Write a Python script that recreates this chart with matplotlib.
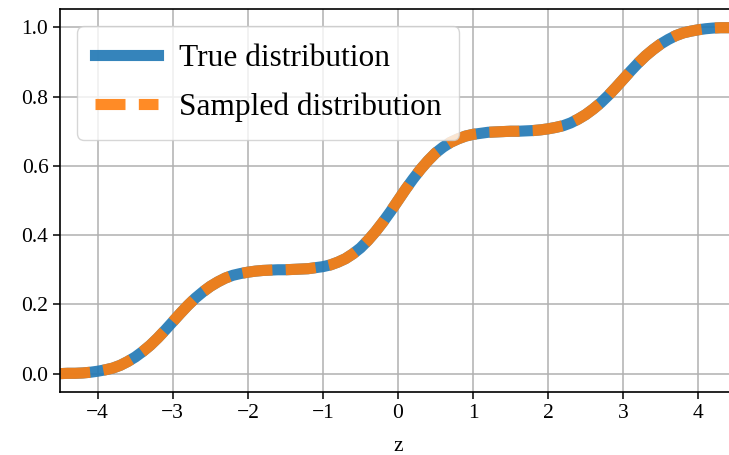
import matplotlib
matplotlib.use("Agg")
import matplotlib.pyplot as plt

plt.rcParams['font.family'] = ['Liberation Serif', 'DejaVu Serif']
plt.rcParams['axes.unicode_minus'] = True

# CDF values on a regular grid of z (step 0.1)
z = [round(-4.5 + 0.1 * i, 1) for i in range(91)]
true_cdf = [
    0.000, 0.001, 0.001, 0.002, 0.004, 0.007, 0.011, 0.016, 0.024, 0.035,
    0.048, 0.064, 0.082, 0.103, 0.126, 0.150, 0.174, 0.197, 0.218, 0.236,
    0.252, 0.265, 0.276, 0.284, 0.289, 0.293, 0.296, 0.298, 0.299, 0.300,
    0.300, 0.301, 0.302, 0.303, 0.306, 0.309, 0.314, 0.322, 0.332, 0.346,
    0.363, 0.385, 0.410, 0.438, 0.468, 0.500, 0.532, 0.562, 0.590, 0.615,
    0.637, 0.654, 0.668, 0.678, 0.686, 0.691, 0.694, 0.697, 0.698, 0.699,
    0.700, 0.700, 0.701, 0.702, 0.704, 0.707, 0.711, 0.716, 0.724, 0.735,
    0.748, 0.764, 0.782, 0.803, 0.826, 0.850, 0.874, 0.897, 0.918, 0.936,
    0.952, 0.965, 0.976, 0.984, 0.989, 0.993, 0.996, 0.998, 0.999, 0.999,
    1.000,
]
sampled_cdf = [
    0.000, 0.001, 0.001, 0.002, 0.004, 0.007, 0.011, 0.016, 0.024, 0.035,
    0.048, 0.064, 0.082, 0.103, 0.126, 0.150, 0.174, 0.197, 0.218, 0.236,
    0.252, 0.265, 0.276, 0.284, 0.289, 0.293, 0.296, 0.298, 0.299, 0.300,
    0.300, 0.301, 0.302, 0.303, 0.306, 0.309, 0.314, 0.322, 0.332, 0.346,
    0.363, 0.385, 0.410, 0.438, 0.468, 0.500, 0.532, 0.562, 0.590, 0.615,
    0.637, 0.654, 0.668, 0.678, 0.686, 0.691, 0.694, 0.697, 0.698, 0.699,
    0.700, 0.700, 0.701, 0.702, 0.704, 0.707, 0.711, 0.716, 0.724, 0.735,
    0.748, 0.764, 0.782, 0.803, 0.826, 0.850, 0.874, 0.897, 0.918, 0.936,
    0.952, 0.965, 0.976, 0.984, 0.989, 0.993, 0.996, 0.998, 0.999, 0.999,
    1.000,
]

fig = plt.figure(figsize=(7.29, 4.55), dpi=100)
ax = fig.add_axes([60.2 / 729, 63 / 455, 675.6 / 729, 383 / 455])

ax.plot(z, true_cdf, color='#1f77b4', lw=8, alpha=0.9, label='True distribution')
ax.plot(z, sampled_cdf, color='#ff7f0e', lw=8, alpha=0.9, ls='--',
        dashes=(2.7, 1.2), label='Sampled distribution')

ax.set_xlim(-4.5, 4.5)
ax.set_ylim(-0.053, 1.053)
ax.set_xticks([-4, -3, -2, -1, 0, 1, 2, 3, 4])
ax.set_yticks([0.0, 0.2, 0.4, 0.6, 0.8, 1.0])
ax.grid(True, color='#b0b0b0', lw=1.1)
ax.tick_params(labelsize=15.5, length=5, width=1.1)
for s in ax.spines.values():
    s.set_linewidth(1.2)
ax.set_xlabel('z', fontsize=15.5, labelpad=10)

ax.legend(loc='upper left', fontsize=22.6, framealpha=0.8,
          labelspacing=0.65, borderpad=0.55, borderaxespad=0.55,
          handletextpad=0.7)

fig.savefig('out.png', dpi=100)
